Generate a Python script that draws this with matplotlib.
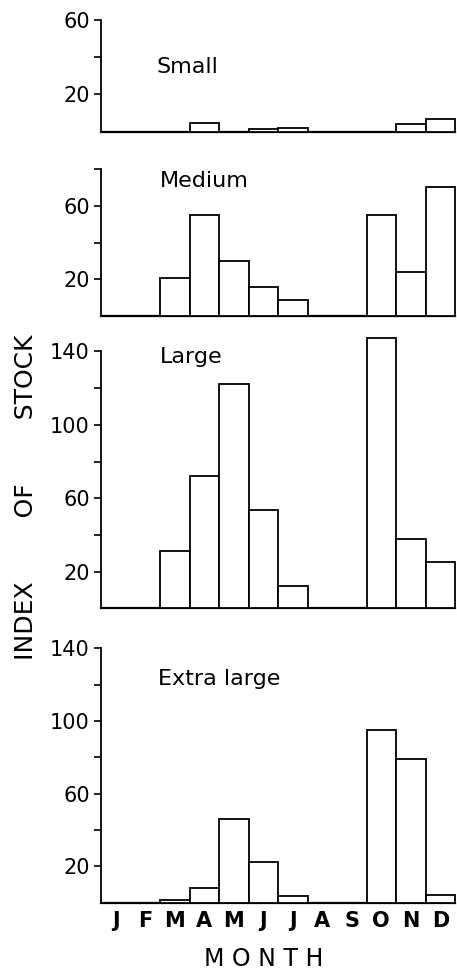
import numpy as np
import matplotlib.pyplot as plt

# -----------------------------
# data
# -----------------------------
months = ["J", "F", "M", "A", "M", "J", "J", "A", "S", "O", "N", "D"]

small = [0, 0, 0, 4.7, 0, 1.2, 2.0, 0, 0, 0, 3.8, 6.8]
medium = [0, 0, 20.5, 55, 30, 16, 8.7, 0, 0, 55, 24, 70.5]
large = [0, 0, 31, 72, 122.5, 53.5, 12, 0, 0, 147.5, 37.5, 25]
xlarge = [0, 0, 1.5, 7.9, 46.3, 22.2, 3.7, 0, 0, 95, 79, 4]

panel_names = ["Small", "Medium", "Large", "Extra large"]
panel_ymax = [60, 80, 140, 140]
panel_ticks = [[20, 40, 60], [20, 40, 60, 80],
               [20, 40, 60, 80, 100, 120, 140], [20, 40, 60, 80, 100, 120, 140]]
panel_labels = [[20, 60], [20, 60], [20, 60, 100, 140], [20, 60, 100, 140]]

# -----------------------------
# layout (figure pixels -> fractions)
# -----------------------------
W, H = 457, 974
x0, x1 = 101, 455
# (baseline px, top-of-range px) for each panel
panel_px = [(131.5, 20), (316, 169.2), (608.3, 351.4), (902.7, 648.3)]
title_px = [(157, 73), (160, 187), (160, 362.7), (158, 685)]

plt.rcParams["font.family"] = "DejaVu Sans"
fig = plt.figure(figsize=(W / 100, H / 100), dpi=100)

series = [small, medium, large, xlarge]
x = np.arange(len(months))

for i, vals in enumerate(series):
    base, top = panel_px[i]
    ax = fig.add_axes([x0 / W, 1 - base / H, (x1 - x0) / W, (base - top) / H])
    ax.bar(x, vals, width=1.0, color="white", edgecolor="black",
           linewidth=1.3, clip_on=False, zorder=3)
    ax.set_xlim(-0.5, 11.5)
    ax.set_ylim(0, panel_ymax[i])

    for s in ["top", "right"]:
        ax.spines[s].set_visible(False)
    ax.spines["left"].set_linewidth(1.3)
    ax.spines["bottom"].set_linewidth(1.6)

    ax.set_yticks(panel_ticks[i])
    ax.set_yticklabels([str(t) if t in panel_labels[i] else "" for t in panel_ticks[i]])
    ax.tick_params(axis="y", direction="out", length=5, width=1.2,
                   labelsize=15, pad=3)

    if i == len(series) - 1:
        ax.set_xticks(x)
        ax.set_xticklabels(months, fontsize=15, fontweight="bold")
        ax.tick_params(axis="x", length=0, pad=6)
    else:
        ax.set_xticks([])

    tx, ty = title_px[i]
    fig.text(tx / W, 1 - ty / H, panel_names[i], fontsize=16,
             ha="left", va="baseline")

fig.text(264 / W, 1 - 966 / H, "M O N T H", fontsize=17, ha="center", va="baseline")
fig.text(26 / W, 1 - 497 / H, "INDEX        OF        STOCK", fontsize=18,
         rotation=90, ha="center", va="center")

fig.savefig("out.png", dpi=100)
